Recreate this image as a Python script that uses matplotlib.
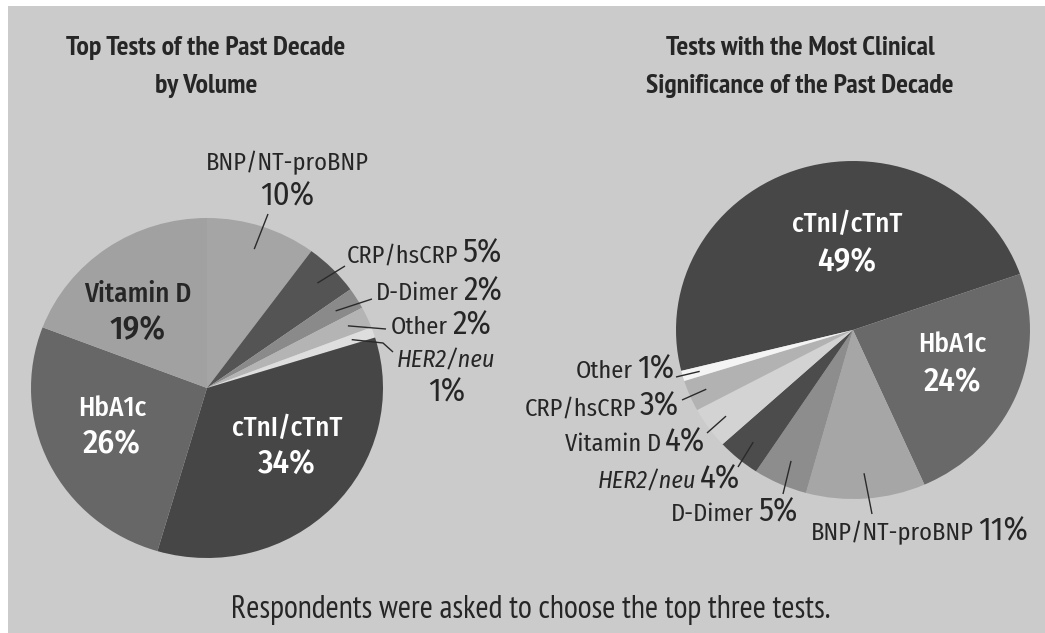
import numpy as np
import matplotlib
matplotlib.use("Agg")
import matplotlib.pyplot as plt
from matplotlib.patches import Rectangle

# ---------------- data ----------------
vol_labels = ["BNP/NT-proBNP", "CRP/hsCRP", "D-Dimer", "Other", "HER2/neu",
              "cTnI/cTnT", "HbA1c", "Vitamin D"]
vol_values = [10, 5, 2, 2, 1, 34, 26, 19]

sig_labels = ["cTnI/cTnT", "HbA1c", "BNP/NT-proBNP", "D-Dimer", "HER2/neu",
              "Vitamin D", "CRP/hsCRP", "Other"]
sig_values = [49, 24, 11, 5, 4, 4, 3, 1]

title_left = ["Top Tests of the Past Decade", "by Volume"]
title_right = ["Tests with the Most Clinical", "Significance of the Past Decade"]
footnote = "Respondents were asked to choose the top three tests."

# ---------------- style ----------------
W, H = 1045, 633
BG = "#cbcbcb"
TXT = "#262626"
LFONT = ["Fira Sans Condensed", "DejaVu Sans"]
TFONT = ["PT Sans Narrow", "DejaVu Sans"]

vol_colors = {"BNP/NT-proBNP": "#a5a5a5", "CRP/hsCRP": "#545454", "D-Dimer": "#8a8a8a",
              "Other": "#b4b4b4", "HER2/neu": "#dedede", "cTnI/cTnT": "#464646",
              "HbA1c": "#676767", "Vitamin D": "#a1a1a1"}
sig_colors = {"cTnI/cTnT": "#474747", "HbA1c": "#696969", "BNP/NT-proBNP": "#a6a6a6",
              "D-Dimer": "#8d8d8d", "HER2/neu": "#4c4c4c", "Vitamin D": "#d3d3d3",
              "CRP/hsCRP": "#b2b2b2", "Other": "#f4f4f4"}

NAME_FS, PCT_FS = 17.5, 23.5
IN_NAME_FS, IN_PCT_FS = 19.5, 24.0

fig = plt.figure(figsize=(W / 100, H / 100), dpi=100)
fig.patch.set_facecolor("white")
fig.patches.append(Rectangle((8 / W, 0), 1, 1 - 6 / H, transform=fig.transFigure,
                             facecolor=BG, edgecolor="none", zorder=-10))


def pie_axes(cx, cy, rx, ry):
    return fig.add_axes([(cx - rx) / W, 1 - (cy + ry) / H, 2 * rx / W, 2 * ry / H])


def draw_pie(ax, values, labels, colors, start):
    wedges, _ = ax.pie(values, colors=[colors[l] for l in labels], startangle=start,
                       counterclock=False, radius=1, frame=True,
                       wedgeprops=dict(linewidth=0))
    ax.set_aspect("auto")
    ax.set_xlim(-1, 1)
    ax.set_ylim(-1, 1)
    ax.axis("off")
    return wedges


L = dict(cx=207, cy=388, rx=176, ry=170)
R = dict(cx=853, cy=330, rx=177, ry=169)
axL = pie_axes(**L)
axR = pie_axes(**R)
wL = draw_pie(axL, vol_values, vol_labels, vol_colors, 90)
wR = draw_pie(axR, sig_values, sig_labels, sig_colors, 194)

# overlay in pixel coordinates (y downwards)
ov = fig.add_axes([0, 0, 1, 1], facecolor="none")
ov.set_xlim(0, W)
ov.set_ylim(H, 0)
ov.axis("off")


def base(y, size):
    """baseline for a text whose capitals are centred on y"""
    return y + 0.345 * size * 100 / 72


def T(x, y, s, size, ha="center", weight=400, color=TXT, family=LFONT, style="normal",
      baseline=None):
    yb = base(y, size) if baseline is None else baseline
    ov.text(x, yb, s, ha=ha, va="baseline", fontsize=size, fontweight=weight,
            color=color, family=family, style=style)


def mid_point(w, P, f):
    a = np.deg2rad((w.theta1 + w.theta2) / 2)
    return P["cx"] + f * P["rx"] * np.cos(a), P["cy"] - f * P["ry"] * np.sin(a)


def leader(w, P, f, pts):
    x0, y0 = mid_point(w, P, f)
    ov.plot([x0] + [p[0] for p in pts], [y0] + [p[1] for p in pts],
            color="#2a2a2a", lw=1.0, solid_capstyle="butt")


def split_label(name, pct, xsplit, y, italic=False, gap=4):
    yb = base(y, NAME_FS)
    T(xsplit, y, name, NAME_FS, ha="right", style="italic" if italic else "normal",
      baseline=yb)
    T(xsplit + gap, y, pct, PCT_FS, ha="left", baseline=yb)


def pct(v):
    return f"{v}%"


# titles and footnote
for i, line in enumerate(title_left):
    T(206, 45 + 38 * i, line, 20, weight="bold", family=TFONT)
for i, line in enumerate(title_right):
    T(800, 45 + 38 * i, line, 20, weight="bold", family=TFONT)
T(531, 607, footnote, 23, family=TFONT)

# ---- left pie labels ----
iL = {l: i for i, l in enumerate(vol_labels)}
for lab, (x, y, c) in {"Vitamin D": (138, 293, TXT), "HbA1c": (112, 407, "white"),
                       "cTnI/cTnT": (287, 427, "white")}.items():
    T(x, y, lab, IN_NAME_FS, weight=500, color=c)
    T(x, y + 35, pct(vol_values[iL[lab]]), IN_PCT_FS, weight=500, color=c)

T(287, 162, "BNP/NT-proBNP", NAME_FS)
T(287, 194, pct(vol_values[iL["BNP/NT-proBNP"]]), PCT_FS)
leader(wL[iL["BNP/NT-proBNP"]], L, 0.86, [(268, 214)])

split_label("CRP/hsCRP", pct(vol_values[iL["CRP/hsCRP"]]), 458, 254)
leader(wL[iL["CRP/hsCRP"]], L, 0.88, [(345, 266)])
split_label("D-Dimer", pct(vol_values[iL["D-Dimer"]]), 459, 292)
leader(wL[iL["D-Dimer"]], L, 0.86, [(372, 299)])
split_label("Other", pct(vol_values[iL["Other"]]), 448, 326)
leader(wL[iL["Other"]], L, 0.88, [(386, 329)])
T(446, 359, "HER2/neu", NAME_FS, style="italic")
T(447, 390, pct(vol_values[iL["HER2/neu"]]), PCT_FS)
leader(wL[iL["HER2/neu"]], L, 0.87, [(383, 343), (393, 352)])

# ---- right pie labels ----
iR = {l: i for i, l in enumerate(sig_labels)}
for lab, (x, y) in {"cTnI/cTnT": (847, 223), "HbA1c": (952, 343)}.items():
    T(x, y, lab, IN_NAME_FS, weight=500, color="white")
    T(x, y + 37, pct(sig_values[iR[lab]]), IN_PCT_FS, weight=500, color="white")

right_layout = {
    "Other": (633, 370, [(676, 377)], 0.90),
    "CRP/hsCRP": (636, 407, [(682, 400)], 0.90),
    "Vitamin D": (661, 443, [(707, 433)], 0.88),
    "HER2/neu": (696, 480, [(738, 467)], 0.87),
    "D-Dimer": (754, 513, [(783, 494)], 0.85),
    "BNP/NT-proBNP": (974, 532, [(872, 514)], 0.85),
}
for lab, (xs, y, pts, f) in right_layout.items():
    split_label(lab, pct(sig_values[iR[lab]]), xs, y, italic=(lab == "HER2/neu"))
    leader(wR[iR[lab]], R, f, pts)

fig.savefig("out.png", dpi=100, facecolor=fig.get_facecolor())
